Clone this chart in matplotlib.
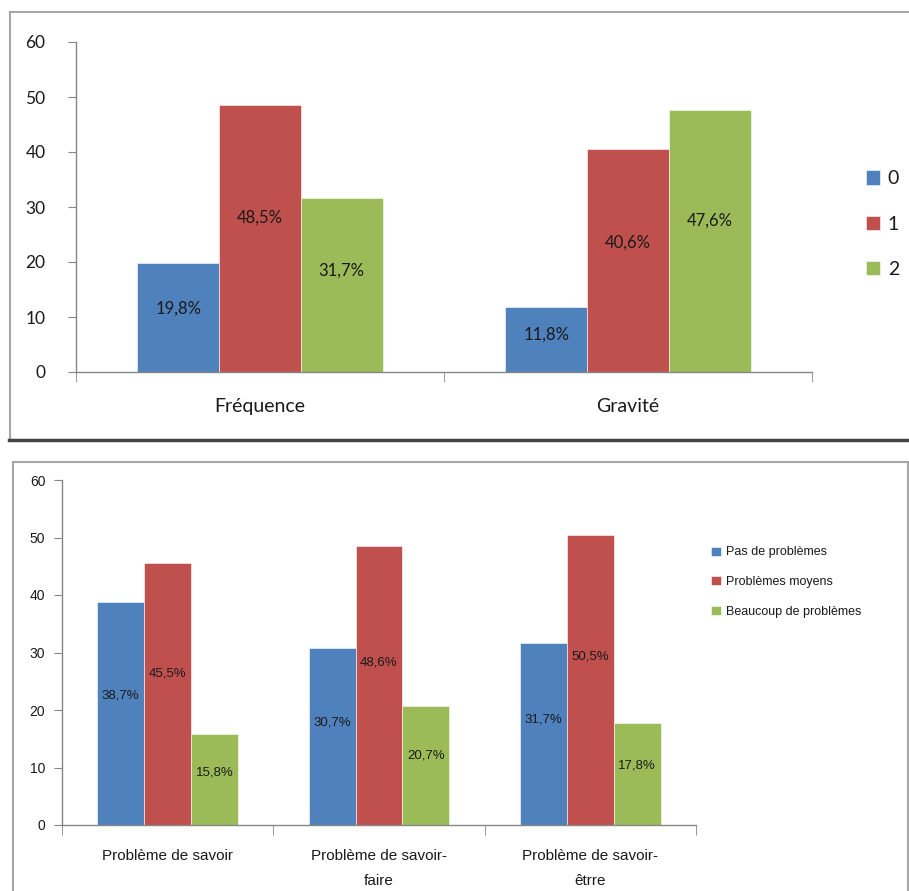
import matplotlib
matplotlib.use("Agg")
import matplotlib.pyplot as plt
import numpy as np
from matplotlib.patches import Rectangle
from matplotlib.lines import Line2D

# data
top_cats = ["Fréquence", "Gravité"]
top_series = ["0", "1", "2"]
top_vals = [[19.8, 11.8], [48.5, 40.6], [31.7, 47.6]]

bot_cats = ["Problème de savoir", "Problème de savoir-\nfaire", "Problème de savoir-\nêtrre"]
bot_series = ["Pas de problèmes", "Problèmes moyens", "Beaucoup de problèmes"]
bot_vals = [[38.7, 30.7, 31.7], [45.5, 48.6, 50.5], [15.8, 20.7, 17.8]]

colors = ["#4F81BD", "#C0504D", "#9BBB59"]
W, H = 909, 891
top_font = ["Lato", "DejaVu Sans"]
narrow_font = ["Liberation Sans Narrow", "Liberation Sans", "DejaVu Sans"]

fig = plt.figure(figsize=(W / 100, H / 100), dpi=100)

def fx(px):
    return px / W

def fy(py):
    return 1 - py / H

# panel frames
fig.patches.append(Rectangle((fx(10), fy(440)), fx(910), fy(12) - fy(440), transform=fig.transFigure,
                             fill=False, edgecolor="#a6a6a6", linewidth=1.5))
fig.lines.append(Line2D([fx(9), 1.0], [fy(440), fy(440)], transform=fig.transFigure, color="#444444", linewidth=2.5))
fig.patches.append(Rectangle((fx(13), fy(895)), fx(895), fy(462) - fy(895), transform=fig.transFigure,
                             fill=False, edgecolor="#a6a6a6", linewidth=1.5))


def draw(ax, cats, series, vals, fonts, tick_fs, cat_fs, lab_fs, leg_fs, leg_anchor, leg_space,
         handle, ypad, xpad, lsp):
    n = len(series)
    bw = 1 / (n + 1.5)
    x = np.arange(len(cats))
    for i in range(n):
        pos = x + (i - (n - 1) / 2) * bw
        bars = ax.bar(pos, vals[i], bw, color=colors[i], edgecolor="white", linewidth=0.4, label=series[i], zorder=2)
        for b, v in zip(bars, vals[i]):
            ax.text(b.get_x() + b.get_width() / 2, v * 0.58, ("%.1f%%" % v).replace(".", ","),
                    ha="center", va="center", fontsize=lab_fs, family=fonts, color="#1a1a1a", zorder=3)
    ax.set_xlim(-0.5, len(cats) - 0.5)
    ax.set_ylim(0, 60)
    ax.set_yticks(range(0, 61, 10))
    ax.set_xticks(x)
    ax.set_xticklabels(cats, fontsize=cat_fs, family=fonts, color="#1a1a1a", linespacing=lsp)
    ax.set_xticks(np.arange(len(cats) + 1) - 0.5, minor=True)
    ax.tick_params(axis="x", which="major", length=0, pad=xpad)
    ax.tick_params(axis="x", which="minor", length=7, color="#868686", direction="out")
    ax.tick_params(axis="y", length=6, color="#868686", direction="out", labelsize=tick_fs, pad=ypad)
    for lab in ax.get_yticklabels():
        lab.set_family(fonts)
        lab.set_color("#1a1a1a")
    for s in ["top", "right"]:
        ax.spines[s].set_visible(False)
    for s in ["left", "bottom"]:
        ax.spines[s].set_color("#868686")
        ax.spines[s].set_linewidth(1.0)
    leg = ax.legend(loc="center left", bbox_to_anchor=leg_anchor, bbox_transform=fig.transFigure,
                    frameon=False, handlelength=handle, handleheight=handle, handletextpad=0.4,
                    labelspacing=leg_space, prop={"family": fonts, "size": leg_fs})
    for t in leg.get_texts():
        t.set_color("#1a1a1a")


ax1 = fig.add_axes([fx(76), fy(372), fx(812 - 76), fy(42) - fy(372)])
draw(ax1, top_cats, top_series, top_vals, top_font, 12.5, 14, 12, 14,
     (fx(848), fy(224)), 1.45, 0.75, 16, 19, 1.5)

ax2 = fig.add_axes([fx(62), fy(825), fx(696 - 62), fy(480) - fy(825)])
draw(ax2, bot_cats, bot_series, bot_vals, narrow_font, 10, 11, 9.5, 9,
     (fx(700), fy(582)), 1.4, 0.75, 6, 17, 2.0)

fig.savefig("out.png", dpi=100, facecolor="white")
